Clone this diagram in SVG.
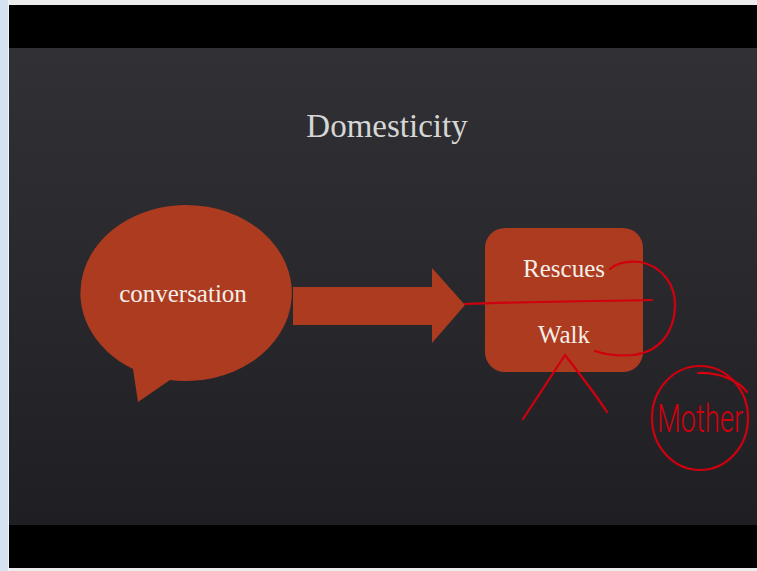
<svg xmlns="http://www.w3.org/2000/svg" width="757" height="571" viewBox="0 0 757 571">
  <defs>
    <linearGradient id="slideBg" x1="0" y1="0" x2="0" y2="1">
      <stop offset="0" stop-color="#313135"/>
      <stop offset="0.5" stop-color="#29292d"/>
      <stop offset="1" stop-color="#1f1f23"/>
    </linearGradient>
    <style>
      .shape { fill: #ad3b20; }
      .label { font-family: "Liberation Serif", "Times New Roman", serif; fill: #f4efe8; text-anchor: middle; }
      .ink { fill: none; stroke: #d0000e; stroke-width: 2.2; stroke-linecap: round; stroke-linejoin: round; }
    </style>
  </defs>

  <!-- window frame -->
  <rect x="0" y="0" width="757" height="571" fill="#ececec"/>
  <rect x="0" y="0" width="8" height="571" fill="#d5e3f1"/>
  <rect x="8" y="0" width="1" height="571" fill="#f2f5f8"/>

  <!-- letterbox bars and slide -->
  <rect x="9" y="5" width="748" height="44" fill="#000000"/>
  <rect x="9" y="48" width="748" height="477" fill="url(#slideBg)"/>
  <rect x="9" y="525" width="748" height="43" fill="#000000"/>

  <!-- title -->
  <text x="387" y="137" font-family="Liberation Serif, serif" font-size="33" fill="#d6d6d6" text-anchor="middle">Domesticity</text>

  <!-- speech bubble -->
  <g id="conversation">
    <path class="shape" d="M184 205 A106 88 0 1 1 170 380 L138 402 L133 369 A106 88 0 0 1 184 205 Z"/>
    <text class="label" x="183" y="302" font-size="25">conversation</text>
  </g>

  <!-- block arrow -->
  <g id="connectors">
    <path class="shape" d="M293 287 L432 287 L432 268 L465 305 L432 343 L432 325 L293 325 Z"/>
  </g>

  <!-- result box -->
  <g id="result">
    <rect class="shape" x="485" y="228" width="158" height="144" rx="20" ry="20"/>
    <text class="label" x="564" y="277" font-size="25">Rescues</text>
    <text class="label" x="564" y="343" font-size="25">Walk</text>
  </g>

  <!-- handwritten ink -->
  <g id="ink">
    <path class="ink" d="M465 304 C520 302 600 301 652 300"/>
    <path class="ink" d="M610 269 C618 262 630 261 640 262 C662 266 676 285 675 307 C674 332 660 352 633 355 C618 356 603 354 595 351"/>
    <path class="ink" d="M523 419 C537 398 552 375 565 355 C578 372 594 392 607 412"/>
    <ellipse class="ink" cx="700" cy="418" rx="48" ry="52"/>
    <path class="ink" d="M698 373 C718 372 738 380 747 392"/>
    <text transform="translate(700 432) scale(0.72 1)" x="0" y="0" font-family="Roboto, 'DejaVu Sans', sans-serif" font-weight="300" font-size="38" fill="#d0000e" text-anchor="middle">Mother</text>
  </g>
</svg>
